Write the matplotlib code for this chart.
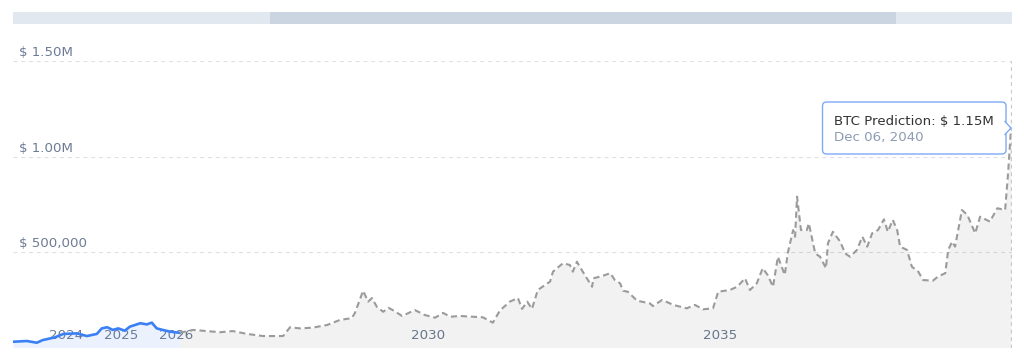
import numpy as np
import matplotlib
matplotlib.use("Agg")
import matplotlib.pyplot as plt
from matplotlib.patches import Rectangle, FancyBboxPatch, Polygon

# price history (blue) - decimal year, USD
hist_years = [2023.04, 2023.29, 2023.47, 2023.58, 2023.80, 2023.95, 2024.20, 2024.38,
              2024.56, 2024.65, 2024.75, 2024.85, 2024.95, 2025.07, 2025.16, 2025.35,
              2025.47, 2025.56, 2025.65, 2025.76, 2025.89, 2026.06]
hist_prices = [30e3, 34e3, 25e3, 39e3, 53e3, 71e3, 74e3, 60e3,
               71e3, 100e3, 106e3, 92e3, 100e3, 88e3, 109e3, 127e3,
               121e3, 130e3, 100e3, 92e3, 83e3, 77e3]

# prediction (grey dashed)
pred_years = [2026.06, 2026.27, 2026.49, 2026.70, 2026.90, 2027.13, 2027.38, 2027.70,
              2027.81, 2027.97, 2028.17, 2028.40, 2028.60, 2028.79, 2028.84, 2028.97,
              2029.05, 2029.11, 2029.19, 2029.29, 2029.37, 2029.44, 2029.59, 2029.79,
              2029.95, 2030.12, 2030.26, 2030.38, 2030.55, 2030.94, 2031.11, 2031.23,
              2031.40, 2031.54, 2031.61, 2031.70, 2031.78, 2031.88, 2032.09, 2032.14,
              2032.31, 2032.43, 2032.48, 2032.55, 2032.65, 2032.81, 2032.83, 2032.98,
              2033.12, 2033.20, 2033.29, 2033.34, 2033.42, 2033.58, 2033.80, 2033.85,
              2034.01, 2034.20, 2034.43, 2034.57, 2034.71, 2034.88, 2034.97, 2035.20,
              2035.35, 2035.51, 2035.61, 2035.75, 2035.87, 2035.97, 2036.08, 2036.18,
              2036.32, 2036.38, 2036.49, 2036.53, 2036.57, 2036.65, 2036.77, 2036.81,
              2036.94, 2037.04, 2037.16, 2037.20, 2037.30, 2037.45, 2037.55, 2037.65,
              2037.79, 2037.90, 2038.00, 2038.10, 2038.22, 2038.34, 2038.42, 2038.52,
              2038.61, 2038.67, 2038.81, 2038.91, 2039.04, 2039.14, 2039.34, 2039.44,
              2039.59, 2039.65, 2039.73, 2039.79, 2039.93, 2040.04, 2040.20, 2040.30,
              2040.50, 2040.65, 2040.81, 2040.87, 2040.93]
pred_prices = [77e3, 92e3, 86e3, 80e3, 86e3, 71e3, 60e3, 60e3,
               106e3, 100e3, 104e3, 118e3, 144e3, 154e3, 181e3, 297e3,
               240e3, 259e3, 212e3, 187e3, 208e3, 196e3, 165e3, 196e3,
               170e3, 156e3, 181e3, 161e3, 165e3, 158e3, 130e3, 193e3,
               240e3, 259e3, 202e3, 240e3, 202e3, 301e3, 345e3, 397e3,
               441e3, 432e3, 397e3, 449e3, 397e3, 318e3, 362e3, 374e3,
               389e3, 353e3, 336e3, 297e3, 292e3, 245e3, 231e3, 217e3,
               249e3, 223e3, 205e3, 223e3, 200e3, 205e3, 292e3, 301e3,
               318e3, 362e3, 301e3, 336e3, 415e3, 380e3, 318e3, 475e3,
               380e3, 493e3, 615e3, 580e3, 790e3, 615e3, 615e3, 650e3,
               493e3, 475e3, 415e3, 546e3, 606e3, 554e3, 493e3, 475e3,
               511e3, 580e3, 528e3, 598e3, 615e3, 671e3, 606e3, 668e3,
               615e3, 528e3, 511e3, 423e3, 397e3, 353e3, 350e3, 371e3,
               389e3, 511e3, 554e3, 528e3, 720e3, 694e3, 598e3, 685e3,
               659e3, 729e3, 720e3, 912e3, 1150e3]

tick_years = [2024, 2025, 2026, 2030, 2035]
tick_labels = ["2024", "2025", "2026", "2030", "2035"]
price_ticks = [500e3, 1.0e6, 1.5e6]
price_labels = ["$ 500,000", "$ 1.00M", "$ 1.50M"]

# ordinal-like time axis (points are evenly spaced, not dates)
ord_years = [2023.04, 2024, 2025, 2026, 2030, 2035, 2040.95]
ord_pos = [13, 66, 121, 176, 428, 720, 1012]

W, H = 1024, 364
label_col = "#6d7c94"
fs = 9.6

fig = plt.figure(figsize=(W / 100, H / 100), dpi=100)
ax = fig.add_axes([13 / W, (H - 347.5) / H, (1012 - 13) / W, (347.5 - 61) / H])

ax.set_xscale("function", functions=(lambda v: np.interp(v, ord_years, ord_pos),
                                     lambda p: np.interp(p, ord_pos, ord_years)))
ax.set_xlim(ord_years[0], ord_years[-1])
ax.set_ylim(0, 1.5e6)

ax.fill_between(hist_years, hist_prices, color="#3e82f7", alpha=0.10, lw=0)
ax.plot(hist_years, hist_prices, color="#3a80f4", lw=1.9, solid_joinstyle="round")
ax.fill_between(pred_years, pred_prices, color="#000000", alpha=0.05, lw=0)
ax.plot(pred_years, pred_prices, color="#9b9b9b", lw=1.5, ls=(0, (3, 1.8)))

ax.axvline(pred_years[-1], color="#c8c8c8", lw=0.9, ls=(0, (3, 3)))

for s in ax.spines.values():
    s.set_visible(False)
ax.set_axisbelow(True)
ax.set_yticks(price_ticks)
ax.set_yticklabels([])
ax.grid(axis="y", color="#e0e0e0", lw=0.8, ls=(0, (3.5, 3.5)))
ax.tick_params(axis="y", length=0)
for v, lab in zip(price_ticks, price_labels):
    ax.annotate(lab, xy=(0, v), xycoords=("axes fraction", "data"), xytext=(4.5, 3.6),
                textcoords="offset points", ha="left", va="baseline",
                fontsize=fs, color=label_col)

ax.set_xticks(tick_years)
ax.set_xticklabels(tick_labels, fontsize=fs, color=label_col)
ax.tick_params(axis="x", length=0, pad=-13)
ax.minorticks_off()

# scrollbar
fig.patches.append(Rectangle((13 / W, (H - 24) / H), (1012 - 13) / W, 12 / H,
                             transform=fig.transFigure, color="#e2e8f0", lw=0))
fig.patches.append(Rectangle((270 / W, (H - 24) / H), (896 - 270) / W, 12 / H,
                             transform=fig.transFigure, color="#cbd5e1", lw=0))

# tooltip
box = FancyBboxPatch((822.5 / W, (H - 154) / H), (1006 - 822.5) / W, 52 / H,
                     boxstyle="round,pad=0,rounding_size=0.004", transform=fig.transFigure,
                     facecolor="white", edgecolor="#7eaaf5", lw=1.0, mutation_aspect=W / H)
fig.patches.append(box)
ptr = Polygon([(1004.5 / W, (H - 121) / H), (1011 / W, (H - 128) / H), (1004.5 / W, (H - 135) / H)],
              closed=False, transform=fig.transFigure, facecolor="white", edgecolor="#7eaaf5", lw=1.0)
fig.patches.append(ptr)
fig.text(834 / W, (H - 121) / H, "BTC Prediction: $ 1.15M", fontsize=fs, color="#333333",
         ha="left", va="center")
fig.text(834 / W, (H - 137) / H, "Dec 06, 2040", fontsize=fs, color="#8d9bb3",
         ha="left", va="center")

fig.savefig("out.png", dpi=100)
